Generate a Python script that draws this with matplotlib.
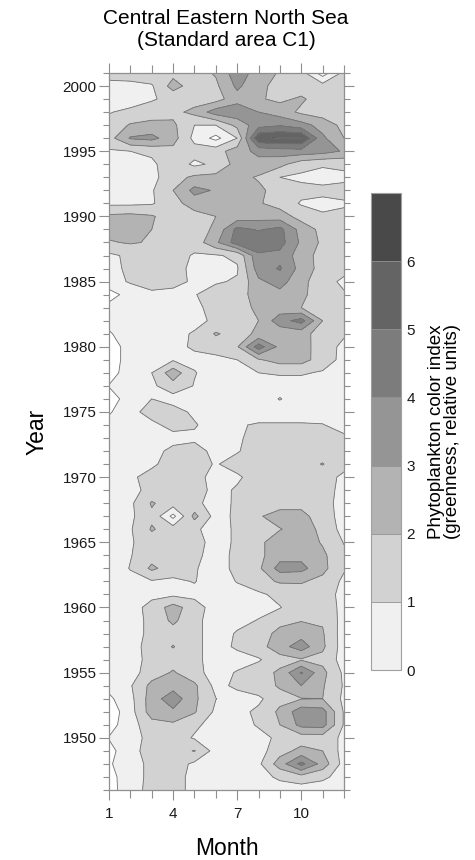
import numpy as np
import matplotlib
matplotlib.use("Agg")
import matplotlib.pyplot as plt
from matplotlib.ticker import MultipleLocator

plt.rcParams['font.family'] = ['Liberation Sans', 'DejaVu Sans']

months = [1, 2, 3, 4, 5, 6, 7, 8, 9, 10, 11, 12]
years = list(range(2001, 1945, -1))  # top row first, one row per year

# greenness, months 1..12 per year
greenness = [
    [1.5, 1.5, 1.6, 1.7, 1.6, 2.1, 3.6, 2.5, 1.9, 1.4, -0.5, 1.3],  # 2001
    [0.6, 0.7, 0.9, 2.4, 1.5, 1.8, 3.2, 2.3, 1.6, 1.5, 1.4, 1.3],
    [0.5, 0.6, 0.9, 1.3, 1.5, 1.6, 2.6, 2.1, 1.8, 2.15, 1.5, 1.3],
    [0.95, 1.2, 1.5, 1.7, 2.3, 3.5, 3.7, 3.0, 2.5, 1.8, 1.5, 1.4],
    [1.3, 2.1, 2.3, 2.2, 1.0, 1.0, 2.3, 3.6, 3.9, 3.4, 2.6, 1.7],
    [1.6, 3.1, 3.3, 2.4, 0.7, -0.3, 1.0, 5.9, 6.1, 6.1, 3.2, 2.0],  # 1996
    [0.9, 1.0, 1.2, 1.7, 1.4, 1.6, 2.5, 3.3, 3.5, 3.6, 3.4, 2.9],
    [0.4, 0.5, 0.8, 1.6, 0.8, 1.2, 2.4, 2.6, 2.3, 1.4, 1.1, 1.2],
    [0.5, 0.5, 0.7, 1.6, 2.2, 2.3, 2.3, 1.9, 1.0, 0.8, 0.7, 0.8],
    [0.5, 0.6, 0.9, 2.0, 3.3, 2.9, 2.3, 2.2, 1.6, 1.3, 1.2, 1.3],
    [0.8, 0.8, 0.9, 1.6, 2.5, 2.5, 2.3, 2.1, 1.6, 0.9, 0.8, 0.9],  # 1991
    [2.2, 2.3, 2.1, 1.5, 1.6, 2.0, 2.4, 2.6, 2.5, 1.6, 1.1, 1.2],
    [2.4, 2.3, 2.0, 1.7, 1.5, 2.2, 4.3, 3.9, 4.3, 2.6, 1.7, 1.4],
    [1.9, 2.1, 1.9, 1.5, 1.4, 2.8, 4.5, 4.8, 4.4, 2.8, 1.8, 1.5],
    [0.8, 1.2, 1.5, 1.4, 0.9, 0.9, 1.2, 3.8, 3.7, 2.5, 1.6, 1.4],
    [0.7, 1.2, 1.5, 1.3, 0.8, 0.8, 0.9, 3.5, 4.1, 2.6, 1.6, 1.3],  # 1986
    [0.6, 1.1, 1.4, 1.2, 0.9, 0.9, 1.1, 2.8, 3.4, 2.3, 1.4, 0.8],
    [-0.4, 0.4, 0.8, 0.8, 0.95, 1.4, 1.6, 2.4, 2.7, 2.2, 1.5, 1.1],
    [0.3, 0.5, 0.6, 0.7, 0.8, 1.3, 1.6, 2.2, 2.4, 2.0, 1.4, 1.1],
    [0.3, 0.4, 0.5, 0.5, 0.7, 1.2, 1.5, 2.0, 3.6, 4.4, 2.0, 1.2],
    [-0.1, 0.5, 0.6, 0.7, 1.1, 2.1, 1.6, 2.2, 2.3, 2.4, 1.5, 1.1],  # 1981
    [-0.6, 0.5, 0.7, 0.8, 1.1, 1.5, 1.9, 4.5, 2.7, 2.5, 1.4, 0.8],
    [-0.6, 0.5, 0.7, 0.9, 0.8, 0.7, 1.0, 1.9, 2.4, 2.4, 1.5, 0.7],
    [-0.5, 0.6, 1.0, 2.6, 1.05, 0.6, 0.6, 1.0, 1.1, 1.1, 0.9, 0.6],
    [0.05, 0.5, 0.8, 1.6, 0.95, 0.5, 0.5, 0.6, 0.6, 0.6, 0.5, 0.5],
    [-0.5, 0.5, 1.0, 0.6, 0.5, 0.4, 0.5, 0.5, 1.05, 0.5, 0.5, 0.5],  # 1976
    [-0.1, 0.6, 1.5, 1.4, 0.8, 0.5, 0.5, 0.5, 0.5, 0.5, 0.5, 0.5],
    [0.3, 0.5, 0.7, 1.4, 1.1, 0.5, 0.9, 1.1, 1.1, 1.1, 1.05, 0.6],
    [0.3, 0.4, 0.5, 0.6, 0.8, 0.5, 0.8, 1.5, 1.6, 1.6, 1.5, 1.2],
    [0.3, 0.4, 0.6, 1.3, 1.4, 0.7, 0.9, 1.6, 1.7, 1.6, 1.5, 1.4],
    [0.4, 0.5, 0.8, 1.5, 1.5, 0.9, 1.5, 1.7, 1.7, 1.6, 2.05, 1.3],  # 1971
    [0.4, 0.8, 1.4, 1.5, 1.4, 0.6, 0.8, 1.6, 1.7, 1.6, 1.4, 0.8],
    [0.4, 0.6, 1.4, 1.5, 1.6, 0.6, 1.15, 1.5, 1.6, 1.6, 1.4, 0.7],
    [0.4, 0.8, 2.1, 1.5, 1.3, 0.5, 1.2, 1.6, 1.6, 1.7, 1.4, 0.6],
    [0.3, 0.8, 1.8, -0.3, 2.3, 0.6, 1.2, 1.9, 2.4, 2.3, 1.5, 0.6],
    [0.3, 0.9, 2.1, 1.5, 1.2, 0.5, 1.2, 1.6, 1.95, 2.4, 1.8, 0.6],  # 1966
    [0.3, 0.9, 1.5, 1.6, 1.5, 0.5, 1.2, 1.75, 2.6, 2.6, 1.9, 0.95],
    [0.4, 0.95, 1.6, 1.5, 1.3, 0.5, 1.3, 1.75, 2.6, 2.7, 2.2, 1.2],
    [0.4, 1.05, 2.2, 1.5, 1.1, 0.5, 1.3, 1.8, 3.4, 3.3, 2.3, 1.1],
    [0.4, 0.7, 0.9, 0.8, 1.05, 0.5, 1.05, 1.7, 2.1, 2.1, 1.7, 0.8],
    [0.3, 0.5, 0.7, 0.8, 0.7, 0.5, 0.6, 0.8, 1.3, 1.5, 1.3, 0.8],  # 1961
    [0.3, 0.5, 1.4, 2.4, 1.5, 0.5, 0.5, 0.7, 0.95, 1.6, 1.4, 0.8],
    [0.3, 0.5, 1.3, 2.2, 1.3, 0.5, 0.7, 1.05, 1.7, 1.95, 1.9, 0.6],
    [0.3, 0.5, 1.3, 1.6, 1.3, 0.5, 1.1, 1.5, 2.3, 2.6, 2.1, 0.5],
    [0.3, 0.6, 1.4, 2.05, 1.3, 0.5, 1.2, 1.6, 2.6, 3.5, 2.2, 0.5],
    [0.3, 0.5, 1.4, 1.6, 1.3, 0.5, 0.5, 0.9, 1.6, 1.9, 1.7, 0.6],  # 1956
    [0.3, 0.6, 1.5, 2.1, 1.4, 0.5, 1.1, 1.5, 2.2, 4.1, 2.3, 0.8],
    [0.3, 0.9, 2.3, 2.6, 2.2, 0.7, 1.2, 1.6, 2.1, 3.0, 2.1, 0.9],
    [-0.2, 0.7, 2.5, 3.6, 2.2, 1.02, 0.6, 0.8, 1.7, 1.95, 2.0, 0.8],
    [-0.6, 0.6, 2.5, 2.8, 2.1, 0.8, 0.7, 1.2, 2.2, 3.6, 3.4, 0.9],
    [-0.4, 0.6, 1.6, 1.8, 1.2, 0.6, 0.6, 1.1, 2.0, 3.3, 3.4, 0.9],  # 1951
    [0.05, 0.5, 1.4, 1.5, 0.9, 0.5, 0.5, 0.7, 1.2, 1.5, 1.5, 0.8],
    [-0.3, 0.6, 1.5, 1.6, 2.05, 0.6, 0.5, 0.6, 1.6, 2.3, 2.0, 0.6],
    [-0.1, 0.5, 1.3, 1.5, 0.8, 0.5, 0.5, 0.8, 2.5, 4.3, 2.6, 0.6],
    [-0.3, 0.5, 1.3, 1.4, 0.7, 0.5, 0.5, 0.6, 1.2, 1.6, 1.2, 0.6],
    [-0.4, 0.6, 1.3, 1.4, 0.7, 0.5, 0.5, 0.5, 0.5, 0.5, 0.5, 0.5],  # 1946
]

levels = [0, 1, 2, 3, 4, 5, 6, 7]
band_colors = ['#f0f0f0', '#d2d2d2', '#b3b3b3', '#959595',
               '#7c7c7c', '#646464', '#494949']
cbar_ticks = [0, 1, 2, 3, 4, 5, 6]
month_ticks = [1, 4, 7, 10]
year_ticks = [1950, 1955, 1960, 1965, 1970, 1975, 1980, 1985, 1990, 1995, 2000]

title = "Central Eastern North Sea\n(Standard area C1)"
cbar_label = "Phytoplankton color index\n(greenness, relative units)"

axis_grey = '#8f8f8f'


def main():
    z = np.array(greenness)[::-1]
    yrs = np.array(years)[::-1]

    fig = plt.figure(figsize=(4.75, 8.6), dpi=100)
    ax = fig.add_axes([109 / 475, 70 / 860, 235 / 475, 717 / 860])

    cs = ax.contourf(months, yrs, z, levels=levels, colors=band_colors)
    ax.contour(months, yrs, z, levels=levels[:-1], colors='#727272',
               linewidths=0.6)

    ax.set_xlim(1, 12)
    ax.set_ylim(1946, 2001)
    ax.set_xticks(month_ticks)
    ax.set_yticks(year_ticks)
    ax.xaxis.set_minor_locator(MultipleLocator(1))
    ax.yaxis.set_minor_locator(MultipleLocator(1))
    ax.tick_params(which='both', direction='out', top=True, right=True,
                   color=axis_grey, labelsize=11, labelcolor='#1a1a1a',
                   width=0.8)
    ax.tick_params(axis='y', which='major', length=7, pad=2)
    ax.tick_params(axis='y', which='minor', length=4.5)
    ax.tick_params(axis='x', which='major', length=7, pad=5)
    ax.tick_params(axis='x', which='minor', length=6)
    for sp in ax.spines.values():
        sp.set_color(axis_grey)
        sp.set_linewidth(0.9)

    ax.set_xlabel('Month', fontsize=16.5, labelpad=12)
    ax.set_ylabel('Year', fontsize=16.5, labelpad=10)

    fig.text(226 / 475, 1 - 9 / 860, title, ha='center', va='top',
             fontsize=15, linespacing=1.2)

    cax = fig.add_axes([371 / 475, 190 / 860, 30 / 475, 477 / 860])
    cb = fig.colorbar(cs, cax=cax, ticks=cbar_ticks, drawedges=True)
    cb.outline.set_edgecolor('#a0a0a0')
    cb.outline.set_linewidth(0.8)
    cb.dividers.set_color('#909090')
    cb.dividers.set_linewidth(0.6)
    cax.tick_params(length=0, labelsize=11, pad=4, labelcolor='#1a1a1a')
    cb.set_label(cbar_label, fontsize=13.5, labelpad=9, linespacing=0.95)

    fig.savefig('out.png', dpi=100)


if __name__ == "__main__":
    main()
